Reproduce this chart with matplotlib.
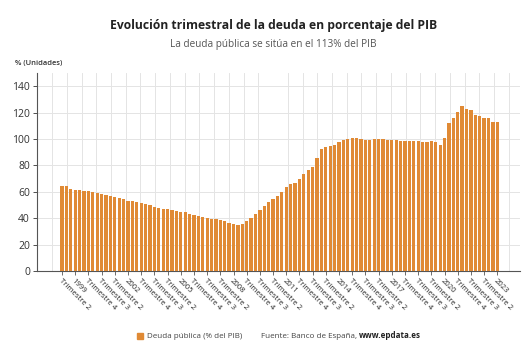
import matplotlib
matplotlib.use("Agg")
import matplotlib.pyplot as plt
import numpy as np

plt.rcParams['font.family'] = ['Open Sans', 'DejaVu Sans']

# Deuda pública en % del PIB, trimestral desde 1998 T2 hasta 2023 T1
start_year = 1998
start_quarter = 2
deuda = [
    64.7, 64.4, 62.2,                                   # 1998 T2-T4
    61.7, 61.2, 60.2, 60.6,                             # 1999
    59.6, 58.7, 58.2, 57.7,                             # 2000
    56.6, 55.8, 55.0, 54.2,                             # 2001
    53.3, 52.7, 52.2, 51.4,                             # 2002
    50.6, 50.1, 48.8, 47.8,                             # 2003
    47.3, 47.0, 46.0, 45.3,                             # 2004
    45.0, 44.3, 43.4, 42.5,                             # 2005
    41.8, 41.0, 40.3, 39.6,                             # 2006
    39.2, 38.4, 37.5, 36.4,                             # 2007
    35.5, 35.1, 35.7, 37.6,                             # 2008
    39.9, 43.0, 46.5, 49.4,                             # 2009
    52.4, 54.8, 56.6, 60.1,                             # 2010
    63.9, 65.9, 66.4, 69.6,                             # 2011
    73.5, 76.5, 78.4, 85.9,                             # 2012
    92.2, 94.1, 94.9, 95.5,                             # 2013
    98.0, 99.2, 99.7, 100.7,                            # 2014
    100.5, 99.8, 99.5, 99.4,                            # 2015
    100.3, 100.3, 99.6, 99.2,                           # 2016
    99.1, 99.0, 98.8, 98.4,                             # 2017
    98.3, 98.6, 98.5, 97.8,                             # 2018
    97.8, 98.2, 98.0, 95.5,                             # 2019
    100.8, 111.8, 115.5, 120.1,                         # 2020
    125.3, 122.8, 121.8, 118.4,                         # 2021
    117.4, 116.2, 115.6, 113.1,                         # 2022
    113.0,                                              # 2023 T1
]

# etiquetas: el primer trimestre se muestra con el año
labels = []
y, q = start_year, start_quarter
for _ in deuda:
    labels.append(str(y) if q == 1 else f"Trimestre {q}")
    q += 1
    if q > 4:
        q = 1
        y += 1

x = np.arange(len(deuda))
bar_color = '#E08A35'
text_color = '#333333'

fig = plt.figure(figsize=(5.27, 3.46), dpi=100)
ax = fig.add_axes([0.0702, 0.2168, 0.9168, 0.5725])

ax.bar(x, deuda, width=0.74, color=bar_color, zorder=3)

ax.set_xlim(-5.7, 104.2)
ax.set_ylim(0, 150)
ax.set_yticks(range(0, 141, 20))
ax.tick_params(axis='y', labelsize=7.5, colors=text_color, length=3, width=0.6, pad=2)

tick_idx = x[::3]
ax.set_xticks(tick_idx)
ax.set_xticklabels([labels[i] for i in tick_idx], rotation=-45, ha='left', va='top',
                   rotation_mode='anchor', fontsize=5.6, color='#2a2a2a')
ax.tick_params(axis='x', length=3, width=0.6, color='#555555', pad=1.5)

# rejilla vertical independiente de las etiquetas
ax.set_xticks(-2.28 + 3.352 * np.arange(32), minor=True)
ax.tick_params(axis='x', which='minor', length=0)
ax.grid(axis='x', which='minor', color='#e4e4e4', linewidth=0.7, zorder=0)
ax.grid(axis='y', which='major', color='#e4e4e4', linewidth=0.7, zorder=0)

for side in ('top', 'right'):
    ax.spines[side].set_visible(False)
ax.spines['left'].set_color('#555555')
ax.spines['bottom'].set_color('#555555')
ax.spines['left'].set_linewidth(0.8)
ax.spines['bottom'].set_linewidth(0.8)

fig.text(0.519, 1 - 25 / 346, 'Evolución trimestral de la deuda en porcentaje del PIB',
         ha='center', va='center', fontsize=8.7, fontweight='bold', color='#222222')
fig.text(0.519, 1 - 44 / 346, 'La deuda pública se sitúa en el 113% del PIB',
         ha='center', va='center', fontsize=7.2, color='#555555')
fig.text(15 / 527, 1 - 63 / 346, '% (Unidades)', ha='left', va='center',
         fontsize=5.4, color='#333333', fontweight='semibold')

# leyenda y fuente
fig.patches.append(plt.Rectangle((137 / 527, 1 - 339 / 346), 6 / 527, 6 / 346,
                                 transform=fig.transFigure, color=bar_color))
fig.text(147 / 527, 1 - 336 / 346, 'Deuda pública (% del PIB)', ha='left', va='center',
         fontsize=5.8, color='#444444')
fig.text(261 / 527, 1 - 336 / 346, 'Fuente: Banco de España,', ha='left', va='center',
         fontsize=5.8, color='#444444')
fig.text(359 / 527, 1 - 336 / 346, 'www.epdata.es', ha='left', va='center',
         fontsize=5.8, color='#222222', fontweight='bold')

fig.savefig('out.png', dpi=100)
